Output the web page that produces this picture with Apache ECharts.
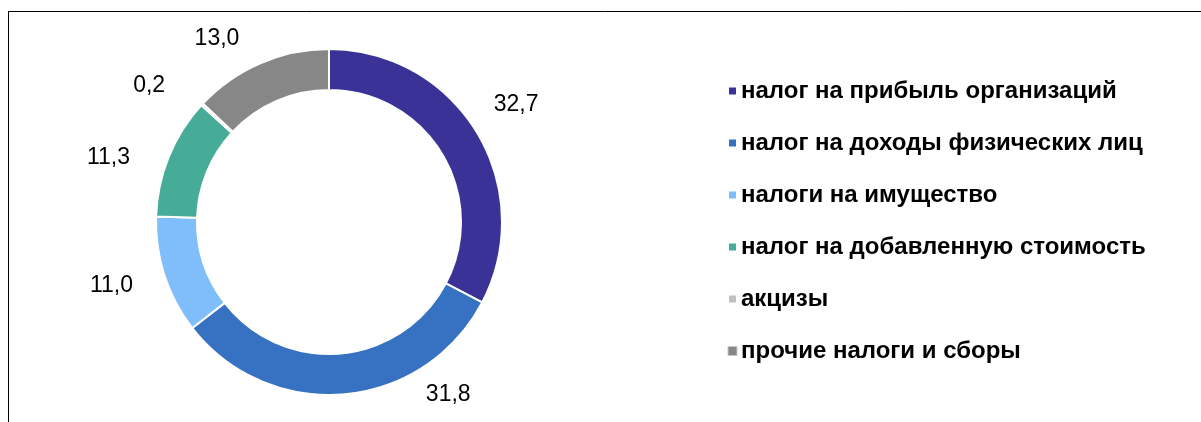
<!DOCTYPE html>
<html>
<head>
<meta charset="utf-8">
<script src="https://cdn.jsdelivr.net/npm/echarts@6/dist/echarts.min.js"></script>
<style>
html,body{margin:0;padding:0;background:#fff;}
#chart{width:1201px;height:422px;}
</style>
</head>
<body>
<div id="chart"></div>
<script>
// Data
const categories = [
  'налог на прибыль организаций',
  'налог на доходы физических лиц',
  'налоги на имущество',
  'налог на добавленную стоимость',
  'акцизы',
  'прочие налоги и сборы'
];
const values = [32.7, 31.8, 11.0, 11.3, 0.2, 13.0];

// Styles (not data)
const colors = ['#3A3297', '#3671C2', '#80BDFB', '#47AC97', '#C0C0C0', '#878787'];
const labelOffsets = [[-9, -12], [79, -30], [-3, 1], [-11, 12], [-15, 2], [-9, 3]];

const chart = echarts.init(document.getElementById('chart'));
const fontFamily = '"Liberation Sans", Arial, sans-serif';

const seriesData = categories.map((name, i) => ({
  name: name,
  value: values[i],
  itemStyle: { color: colors[i] },
  label: { offset: labelOffsets[i] }
}));

const legendData = categories.map((name, i) => (
  i === categories.length - 1
    ? { name: name, itemStyle: { borderColor: '#C8C8C8', borderWidth: 1 } }
    : { name: name }
));

chart.setOption({
  animation: false,
  backgroundColor: '#fff',
  graphic: [
    { type: 'line', shape: { x1: 8, y1: 11.5, x2: 1201, y2: 11.5 }, style: { stroke: '#000', lineWidth: 1 } },
    { type: 'line', shape: { x1: 8.5, y1: 11, x2: 8.5, y2: 422 }, style: { stroke: '#000', lineWidth: 1 } }
  ],
  legend: {
    orient: 'vertical',
    left: 722,
    top: 74,
    icon: 'rect',
    itemWidth: 9,
    itemHeight: 9,
    itemGap: 28,
    data: legendData,
    selectedMode: false,
    textStyle: { fontFamily: fontFamily, fontSize: 24, fontWeight: 'bold', color: '#000', padding: [0, 0, 0, -1] }
  },
  series: [{
    type: 'pie',
    center: [329, 222],
    radius: [132, 173],
    startAngle: 90,
    clockwise: true,
    avoidLabelOverlap: false,
    silent: true,
    itemStyle: { borderColor: '#fff', borderWidth: 2 },
    label: {
      show: true,
      position: 'outside',
      formatter: p => p.value.toFixed(1).replace('.', ','),
      fontFamily: fontFamily,
      fontSize: 23,
      color: '#000',
      distanceToLabelLine: 0
    },
    labelLine: { show: false, length: 30, length2: 0 },
    data: seriesData
  }]
});
</script>
</body>
</html>
